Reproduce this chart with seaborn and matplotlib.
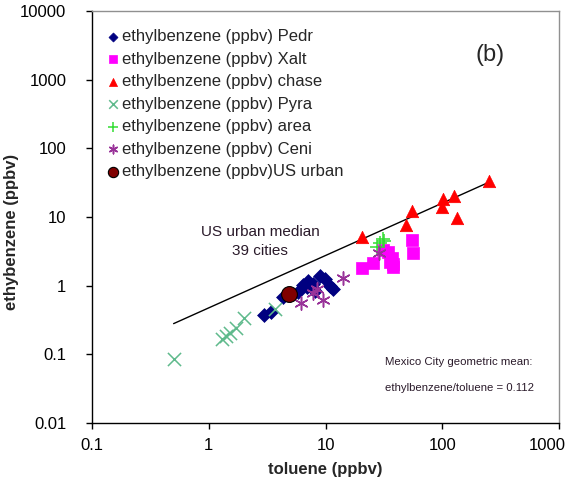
import numpy as np
import pandas as pd
import matplotlib
matplotlib.use("Agg")
import matplotlib.pyplot as plt
import matplotlib.transforms as mtransforms
import seaborn as sns

# toluene (x) / ethylbenzene (y), ppbv
pedr_x = [3.0, 3.4, 4.3, 5.0, 5.8, 6.4, 7.1, 7.8, 8.1, 9.0, 9.9, 10.9, 11.6, 6.9]
pedr_y = [0.38, 0.42, 0.69, 0.72, 0.81, 1.03, 1.17, 1.06, 0.85, 1.40, 1.26, 1.00, 0.90, 0.95]

xalt_x = [20.6, 25.5, 31.1, 34.3, 37.1, 35.7, 37.8, 38.0, 55.1, 56.1]
xalt_y = [1.82, 2.15, 3.3, 3.1, 2.54, 2.22, 1.88, 2.05, 4.7, 2.95]

chase_x = [20.6, 48.9, 55.1, 99.6, 101, 126, 134, 251]
chase_y = [5.1, 7.7, 12.3, 14.0, 18.4, 20.3, 9.7, 33.5]

pyra_x = [0.50, 1.30, 1.41, 1.52, 1.71, 2.0, 3.7]
pyra_y = [0.086, 0.17, 0.186, 0.206, 0.243, 0.34, 0.46]

area_x = [31.1, 27.6, 29.3, 32.0]
area_y = [4.8, 3.7, 4.2, 4.5]

ceni_x = [6.2, 7.8, 8.4, 9.5, 14.1, 28.7]
ceni_y = [0.56, 0.79, 0.90, 0.62, 1.30, 3.0]

us_x = [4.9]
us_y = [0.75]

line_x = [0.5, 250]
line_y = [0.28, 32]

x_ticks = [0.1, 1, 10, 100, 1000]
x_tick_labels = ["0.1", "1", "10", "100", "1000"]
y_ticks = [0.01, 0.1, 1, 10, 100, 1000, 10000]
y_tick_labels = ["0.01", "0.1", "1", "10", "100", "1000", "10000"]

sns.set_style("ticks")
plt.rcParams["font.family"] = ["Liberation Sans", "DejaVu Sans"]

fig = plt.figure(figsize=(5.71, 4.86), dpi=100)
ax = fig.add_axes([92/571, 1-423/486, 467/571, 412/486])

ax.set_xscale("log")
ax.set_yscale("log")

sns.lineplot(x=line_x, y=line_y, color="black", linewidth=1, ax=ax)

series = [
    (pedr_x, pedr_y, "ethylbenzene (ppbv) Pedr", "D", "#000080", 50),
    (xalt_x, xalt_y, "ethylbenzene (ppbv) Xalt", "s", "#ff00ff", 70),
    (chase_x, chase_y, "ethylbenzene (ppbv) chase", "^", "#ff0000", 80),
    (pyra_x, pyra_y, "ethylbenzene (ppbv) Pyra", "x", "#5fba8c", 90),
    (area_x, area_y, "ethylbenzene (ppbv) area", "+", "#33dd33", 100),
    (ceni_x, ceni_y, "ethylbenzene (ppbv) Ceni", (6, 2, 0), "#993399", 90),
]

for xs, ys, name, mk, col, size in series:
    if mk in ("x", "+") or isinstance(mk, tuple):
        sns.scatterplot(x=xs, y=ys, marker=mk, color=col, s=size,
                        linewidth=1.1, label=name, ax=ax, zorder=3)
    else:
        sns.scatterplot(x=xs, y=ys, marker=mk, color=col, s=size,
                        edgecolor=col, linewidth=0.5, label=name, ax=ax, zorder=3)

sns.scatterplot(x=us_x, y=us_y, marker="o", color="#800000", s=130,
                edgecolor="black", linewidth=0.8,
                label="ethylbenzene (ppbv)US urban", ax=ax, zorder=4)

ax.set_xlim(0.1, 1000)
ax.set_ylim(0.01, 10000)
ax.set_xticks(x_ticks)
ax.set_xticklabels(x_tick_labels)
ax.set_yticks(y_ticks)
ax.set_yticklabels(y_tick_labels)
ax.minorticks_off()
ax.tick_params(axis="both", direction="out", length=4.5, width=1, color="black",
               labelsize=12, labelcolor="black")
ax.tick_params(axis="y", pad=14)
ax.tick_params(axis="x", pad=6)

# last x label pulled in a little, as in the original
last = ax.get_xticklabels()[-1]
last.set_transform(last.get_transform() +
                   mtransforms.ScaledTranslation(-12/100, 0, fig.dpi_scale_trans))

for s in ["left", "bottom"]:
    ax.spines[s].set_color("black")
    ax.spines[s].set_linewidth(1)
for s in ["top", "right"]:
    ax.spines[s].set_color("#909090")
    ax.spines[s].set_linewidth(1)

ax.set_xlabel("toluene (ppbv)", fontsize=12, fontweight="bold")
ax.set_ylabel("ethybenzene (ppbv)", fontsize=12, fontweight="bold")
ax.xaxis.label.set_va("center")
ax.yaxis.label.set_va("center")
ax.xaxis.set_label_coords(0.5, -0.114)
ax.yaxis.set_label_coords(-0.173, 0.464)

ax.text(2.75, 6.0, "US urban median", fontsize=11, ha="center", va="center", color="#2a1a2a")
ax.text(2.75, 3.2, "39 cities", fontsize=11, ha="center", va="center", color="#2a1a2a")
ax.text(256, 2290, "(b)", fontsize=17, ha="center", va="center")
ax.text(0.627, 0.148, "Mexico City geometric mean:", transform=ax.transAxes,
        fontsize=8.2, ha="left", va="center", color="#2a1a2a")
ax.text(0.627, 0.085, "ethylbenzene/toluene = 0.112", transform=ax.transAxes,
        fontsize=8.2, ha="left", va="center", color="#2a1a2a")

leg = ax.legend(loc="upper left", bbox_to_anchor=(0.012, 0.972), frameon=False,
                fontsize=12, handletextpad=0.05, labelspacing=0.45,
                handlelength=1.0, markerscale=0.65, borderaxespad=0)

fig.savefig("out.png", dpi=100)
